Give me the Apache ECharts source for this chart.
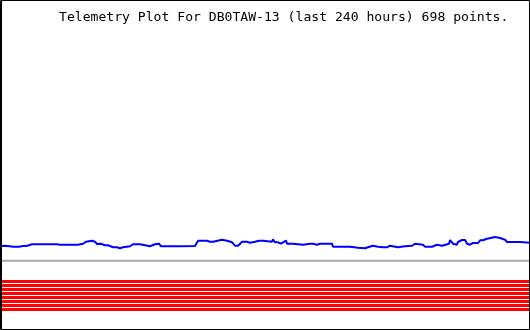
<!DOCTYPE html>
<html>
<head>
<meta charset="utf-8">
<script src="https://cdn.jsdelivr.net/npm/echarts@6/dist/echarts.min.js"></script>
<style>
html,body{margin:0;padding:0;background:#fff;}
#c{width:530px;height:330px;}
</style>
</head>
<body>
<div id="c"></div>
<script>
// Title text
var titleText = 'Telemetry Plot For DB0TAW-13 (last 240 hours) 698 points.';

// Time axis range (hours)
var hoursMin = 0;
var hoursMax = 240;

// Main telemetry channel: hours, value
var hours = [0.0,0.5,0.9,1.8,2.3,4.5,5.0,5.9,8.6,9.5,10.4,11.8,12.2,13.1,14.5,17.2,18.1,19.0,25.8,26.3,27.2,35.3,36.2,37.6,38.9,39.8,41.7,42.1,43.0,43.9,44.8,45.7,46.6,47.5,48.9,49.8,51.2,52.1,53.0,53.9,54.3,55.2,55.7,56.6,58.9,59.8,60.2,61.1,62.0,63.4,64.3,65.7,66.6,67.9,68.8,70.2,71.1,72.0,72.9,81.5,88.3,88.8,89.7,91.9,92.8,93.7,94.2,95.1,96.5,97.4,100.5,101.0,102.8,103.2,105.1,105.5,106.4,107.8,108.7,109.6,111.8,112.3,113.2,114.1,115.5,116.4,117.3,119.1,120.0,123.2,123.6,124.5,125.9,127.2,128.2,128.6,129.5,130.0,132.7,133.6,137.2,138.1,140.4,141.3,141.7,142.6,143.5,144.0,144.9,150.3,150.8,158.5,158.9,162.1,163.0,165.3,166.2,166.6,167.5,168.9,169.8,171.2,172.1,173.4,174.3,175.2,175.7,176.6,177.5,180.2,181.1,183.4,184.3,186.6,187.0,187.9,188.8,191.5,192.5,195.6,196.1,197.9,198.3,200.2,200.6,203.3,203.8,204.2,204.7,205.1,206.0,206.9,207.4,208.3,209.2,210.6,211.5,212.8,213.7,214.2,216.5,217.4,218.7,219.6,220.5,221.0,224.2,225.1,226.4,227.3,228.7,229.6,230.9,231.8,233.2,235.5,236.4,240.0];
var values = [83.7,83.7,84.3,84.3,83.7,83.7,84.7,83.3,83.3,82.3,84.0,84.0,85.3,84.7,85.7,85.7,86.3,85.7,85.7,86.3,85.3,85.3,86.3,86.3,88.3,89.3,89.3,88.3,88.3,86.0,86.0,86.3,86.3,84.7,84.7,82.7,82.7,81.7,82.7,82.7,81.7,82.7,82.7,83.7,83.7,84.7,85.7,84.0,85.7,85.7,84.7,84.7,83.7,83.7,85.7,85.7,86.3,86.3,83.7,83.7,84.0,85.3,89.3,89.3,88.3,89.3,89.3,88.3,88.3,90.3,90.3,89.3,89.3,87.7,87.7,86.0,84.3,84.3,86.3,88.3,88.3,87.3,87.3,88.3,88.3,87.0,89.3,89.3,88.3,88.3,90.7,87.7,87.7,86.3,87.7,87.7,89.3,86.3,86.3,85.3,85.3,86.3,86.3,87.3,86.3,88.3,85.3,85.3,86.3,86.3,83.3,83.3,82.3,82.3,81.7,81.7,82.7,82.7,84.3,84.3,83.3,83.3,82.7,82.7,83.7,82.7,82.7,84.3,82.7,82.7,83.7,83.7,84.3,84.3,85.3,86.3,85.3,85.3,83.3,83.3,85.3,85.3,84.3,84.3,86.3,86.3,90.0,90.0,88.0,86.3,88.0,85.3,88.0,88.0,90.0,90.0,86.3,85.3,85.3,87.0,87.0,89.7,89.7,91.3,91.3,93.0,93.0,92.0,92.0,90.3,90.3,88.0,88.0,87.0,88.0,88.0,87.3,87.3];

// Secondary channels (flat levels)
var refLevel = 69.3;
var flatLevels = [48.5,44.5,40.5,36.5,32.5,28.5,24.5,20.5];

// Value axis range
var valueMin = 0;
var valueMax = 330;

var chart = echarts.init(document.getElementById('c'), null, {renderer:'canvas'});

var mainData = hours.map(function(h,i){return [h, values[i]];});
var series = [];
series.push({
  type:'line', data:[[hoursMin, refLevel],[hoursMax, refLevel]],
  symbol:'none', lineStyle:{color:'#aaaaaa', width:2}, silent:true, z:2
});
flatLevels.forEach(function(v){
  series.push({
    type:'line', data:[[hoursMin, v],[hoursMax, v]],
    symbol:'none', lineStyle:{color:'#ff0000', width:3}, silent:true, z:2
  });
});
series.push({
  type:'line', data:mainData, symbol:'none',
  lineStyle:{color:'#0000ff', width:2}, silent:true, z:3
});

chart.setOption({
  animation:false,
  backgroundColor:'#ffffff',
  grid:{left:0,right:0,top:0,bottom:0,containLabel:false},
  xAxis:{type:'value',min:hoursMin,max:hoursMax,show:false},
  yAxis:{type:'value',min:valueMin,max:valueMax,show:false},
  series:series,
  graphic:[
    {type:'text', left:59, top:11, z:10, style:{text:titleText, font:'13.1px "DejaVu Sans Mono"', fill:'#000'}},
    {type:'rect', z:20, shape:{x:0.5,y:0.5,width:529,height:329}, style:{fill:null, stroke:'#000', lineWidth:1}},
    {type:'rect', z:20, shape:{x:1,y:0,width:1,height:330}, style:{fill:'#000'}}
  ]
});
</script>
</body>
</html>
